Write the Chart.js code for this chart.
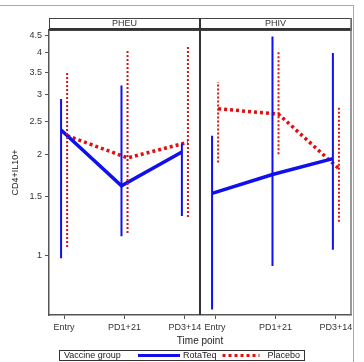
<!DOCTYPE html>
<html>
<head>
<meta charset="utf-8">
<script src="https://cdn.jsdelivr.net/npm/chart.js@4.4.0/dist/chart.umd.min.js"></script>
<style>
  body { margin: 0; background: #fff; }
  #wrap { position: relative; width: 364px; height: 362px; overflow: hidden; }
  #frame { position: absolute; left: -2px; top: 5px; width: 355px; height: 370px; border-top: 1px solid #aaa; border-right: 1px solid #aaa; }
  canvas { position: absolute; left: 0; top: 0; }
</style>
</head>
<body>
<div id="wrap"><div id="frame"></div><canvas id="chart" width="364" height="362"></canvas></div>
<script>
const panels = ['PHEU', 'PHIV'];
const timePoints = ['Entry', 'PD1+21', 'PD3+14'];
const yTicks = [1, 1.5, 2, 2.5, 3, 3.5, 4, 4.5];

// means and error bar ends, [panel][time point]
const rotaMean = [[2.36, 1.61, 2.03], [1.53, 1.74, 1.94]];
const rotaLow  = [[0.98, 1.14, 1.31], [0.69, 0.93, 1.04]];
const rotaHigh = [[2.92, 3.20, 2.15], [2.27, 4.48, 4.00]];
const placMean = [[2.27, 1.95, 2.17], [2.73, 2.63, 1.81]];
const placLow  = [[1.06, 1.165, 1.30], [1.89, 2.00, 1.26]];
const placHigh = [[3.50, 4.08, 4.17], [3.28, 4.06, 2.76]];

const panelStep = 2.5;
const blue = '#1010ee';
const red = '#e01010';

function xPos(p, i, shift) {
  return p * panelStep + i + shift;
}

function meanLine(mean, shift) {
  const pts = [];
  panels.forEach((name, p) => {
    timePoints.forEach((t, i) => pts.push({x: xPos(p, i, shift), y: mean[p][i]}));
    pts.push({x: p * panelStep + 2.25, y: null});
  });
  return pts;
}

function errBars(low, high, shift) {
  const pts = [];
  panels.forEach((name, p) => {
    timePoints.forEach((t, i) => {
      pts.push({x: xPos(p, i, shift), y: low[p][i]});
      pts.push({x: xPos(p, i, shift), y: high[p][i]});
      pts.push({x: xPos(p, i, shift), y: null});
    });
  });
  return pts;
}

const tickVals = [];
const tickLabels = [];
panels.forEach((name, p) => {
  timePoints.forEach((t, i) => { tickVals.push(xPos(p, i, 0)); tickLabels.push(t); });
});

const data = {
  datasets: [
    {data: errBars(rotaLow, rotaHigh, -0.05), borderColor: blue, borderWidth: 2},
    {data: errBars(placLow, placHigh, 0.05), borderColor: red, borderWidth: 2, borderDash: [2, 2]},
    {label: 'RotaTeq', legend: true, legendLen: 42, data: meanLine(rotaMean, -0.05), borderColor: blue, borderWidth: 3.5},
    {label: 'Placebo', legend: true, legendLen: 37, data: meanLine(placMean, 0.05), borderColor: red, borderWidth: 3.5, borderDash: [3, 3]}
  ]
};

const panelFrame = {
  id: 'panelFrame',
  afterDraw(chart) {
    const ctx = chart.ctx;
    const x = chart.scales.x;
    const area = chart.chartArea;
    const edges = [x.min, x.min + panelStep, x.max].map(v => x.getPixelForValue(v));
    const top = 18;
    ctx.save();
    // header strips
    panels.forEach((name, p) => {
      ctx.fillStyle = '#fff';
      ctx.fillRect(edges[p], top, edges[p + 1] - edges[p], area.top - top);
      ctx.strokeStyle = '#444';
      ctx.lineWidth = 1;
      ctx.strokeRect(edges[p] + 0.5, top + 0.5, edges[p + 1] - edges[p], area.top - top);
      ctx.fillStyle = '#333';
      ctx.font = '9px "Liberation Sans", Arial, sans-serif';
      ctx.textAlign = 'center';
      ctx.textBaseline = 'middle';
      ctx.fillText(name, (edges[p] + edges[p + 1]) / 2, (top + area.top) / 2);
    });
    ctx.strokeStyle = '#333';
    ctx.lineWidth = 2;
    ctx.beginPath();
    ctx.moveTo(edges[0], area.top - 1);
    ctx.lineTo(edges[2], area.top - 1);
    ctx.stroke();
    // divider between panels
    ctx.beginPath();
    ctx.moveTo(edges[1], top);
    ctx.lineTo(edges[1], area.bottom);
    ctx.stroke();
    // right edge
    ctx.strokeStyle = '#777';
    ctx.lineWidth = 1.5;
    ctx.beginPath();
    ctx.moveTo(edges[2], top);
    ctx.lineTo(edges[2], area.bottom);
    ctx.stroke();

    // legend box
    const lx = 59, ly = 350, lw = 245, lh = 10;
    ctx.strokeStyle = '#333';
    ctx.lineWidth = 1;
    ctx.strokeRect(lx + 0.5, ly + 0.5, lw, lh);
    ctx.font = '9px "Liberation Sans", Arial, sans-serif';
    ctx.textAlign = 'left';
    ctx.textBaseline = 'middle';
    ctx.fillStyle = '#222';
    const cy = ly + lh / 2 + 0.5;
    ctx.fillText('Vaccine group', lx + 5, cy);
    let cx = 138;
    chart.data.datasets.filter(ds => ds.legend).forEach((ds, k) => {
      ctx.strokeStyle = ds.borderColor;
      ctx.lineWidth = 3;
      ctx.setLineDash(ds.borderDash || []);
      ctx.beginPath();
      ctx.moveTo(cx, cy);
      ctx.lineTo(cx + ds.legendLen, cy);
      ctx.stroke();
      ctx.setLineDash([]);
      ctx.fillStyle = '#222';
      const tx = cx + ds.legendLen + (k === 0 ? 3 : 8);
      ctx.fillText(ds.label, tx, cy);
      cx = tx + ctx.measureText(ds.label).width + 6;
    });
    ctx.restore();
  }
};

const config = {
  type: 'line',
  data: data,
  options: {
    responsive: false,
    devicePixelRatio: 1,
    animation: false,
    layout: {padding: {top: 30, right: 13, bottom: 15, left: 0}},
    elements: {point: {radius: 0}, line: {tension: 0}},
    plugins: {legend: {display: false}, tooltip: {enabled: false}},
    scales: {
      x: {
        type: 'linear',
        min: -0.25,
        max: 4.75,
        afterBuildTicks: s => { s.ticks = tickVals.map(v => ({value: v})); },
        afterFit: s => { s.height = 32; },
        ticks: {
          autoSkip: false,
          maxRotation: 0,
          color: '#333',
          font: {family: '"Liberation Sans", Arial, sans-serif', size: 9},
          callback: (v, i) => tickLabels[i]
        },
        grid: {display: true, drawOnChartArea: false, tickLength: 4, color: '#555'},
        border: {display: true, color: '#555', width: 1.5},
        title: {display: true, text: 'Time point', color: '#222', padding: 0,
          font: {family: '"Liberation Sans", Arial, sans-serif', size: 10}}
      },
      y: {
        type: 'logarithmic',
        min: 0.665,
        max: 4.68,
        afterBuildTicks: s => { s.ticks = yTicks.map(v => ({value: v})); },
        afterFit: s => { s.width = 49; },
        ticks: {
          color: '#333',
          font: {family: '"Liberation Sans", Arial, sans-serif', size: 9},
          callback: v => String(v)
        },
        grid: {display: true, drawOnChartArea: false, tickLength: 4, color: '#555'},
        border: {display: true, color: '#555', width: 1.5},
        title: {display: true, text: 'CD4+IL10+', color: '#222', padding: {top: 10, bottom: 0},
          font: {family: '"Liberation Sans", Arial, sans-serif', size: 9}}
      }
    }
  },
  plugins: [panelFrame]
};

const chart = new Chart(document.getElementById('chart'), config);
</script>
</body>
</html>
